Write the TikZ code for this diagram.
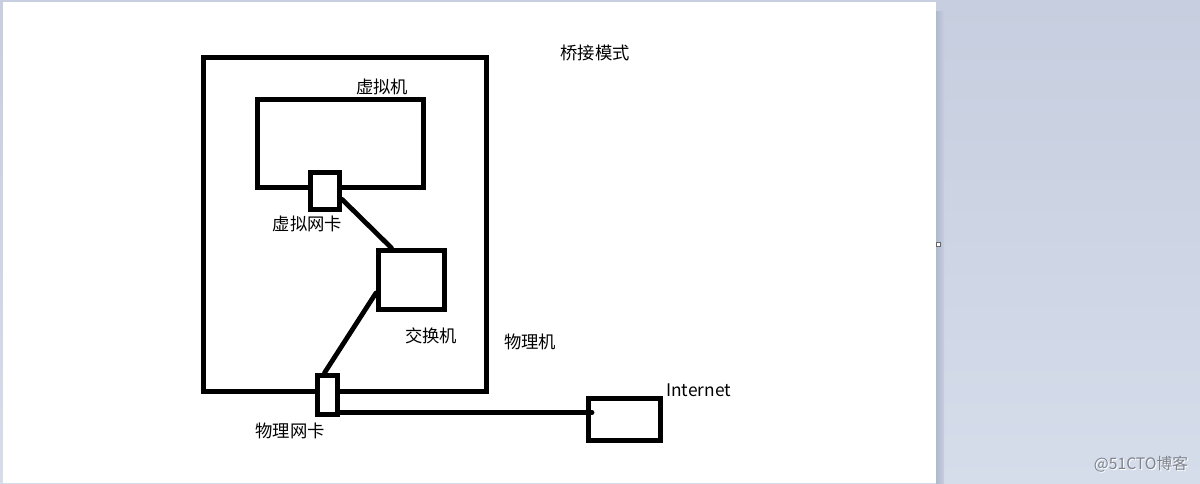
\documentclass[tikz,border=0pt]{standalone}
\usepackage{fontspec}
\newfontfamily\cjk{Noto Sans CJK SC}
\definecolor{deskTop}{HTML}{C6CEDF}
\definecolor{deskBot}{HTML}{D5DDEB}
\definecolor{shadowL}{HTML}{AEBACE}
\definecolor{markGray}{HTML}{7E838C}
\tikzset{
  box/.style 2 args={draw, line width=3.75pt, inner sep=0pt,
    minimum width=#1*0.75pt, minimum height=#2*0.75pt},
  wire/.style={line width=3.6pt, line cap=round},
  lbl/.style={font=\cjk\fontsize{13}{15}\selectfont, inner sep=0pt},
  wmark/.style={font=\cjk\fontsize{11.8}{13}\selectfont, inner sep=0pt}
}
\begin{document}
\begin{tikzpicture}[x=0.75pt,y=-0.75pt]
\useasboundingbox (0,0) rectangle (1200,483);
% page and desktop
\shade[top color=deskTop, bottom color=deskBot] (0,0) rectangle (1200,483);
\fill[white] (3,2) rectangle (936,483);
\shade[left color=shadowL, right color=deskTop] (936,11) rectangle (944,483);
\filldraw[fill=white, draw=gray!80!black, line width=1pt] (936.5,242.5) rectangle (940.5,246.5);
% boxes
\node[box={283}{334}] (phys) at (345,224.5) {};
\node[box={166}{88}] (vm) at (340.5,143.5) {};
\node[box={29}{37}, fill=white] (vnic) at (325,191) {};
\node[box={66}{59}] (switch) at (411.5,280) {};
\node[box={20}{39}, fill=white] (pnic) at (327.5,395) {};
\node[box={72}{42}] (inet) at (624.5,419.5) {};
\coordinate (plug) at (592,412.5);
% wires
\draw[wire] (vnic.-26) -- (switch.122);
\draw[wire] (switch.200) -- (pnic.98);
\draw[wire] (pnic.east |- plug) -- (plug);
% labels
\node[lbl] (mode) at (595,53) {桥接模式};
\node[lbl] (vmlbl) at (382,87) {虚拟机};
\node[lbl] (vniclbl) at (307.5,224) {虚拟网卡};
\node[lbl] (swlbl) at (431,336) {交换机};
\node[lbl] (physlbl) at (530,342) {物理机};
\node[lbl] (pniclbl) at (290,431) {物理网卡};
\node[lbl, anchor=west] (inetlbl) at (666,390) {Internet};
\node[wmark, text=white] (markshadow) at (1142,465) {@51CTO博客};
\node[wmark, text=markGray] (mark) at (1141,464) {@51CTO博客};
\end{tikzpicture}
\end{document}
